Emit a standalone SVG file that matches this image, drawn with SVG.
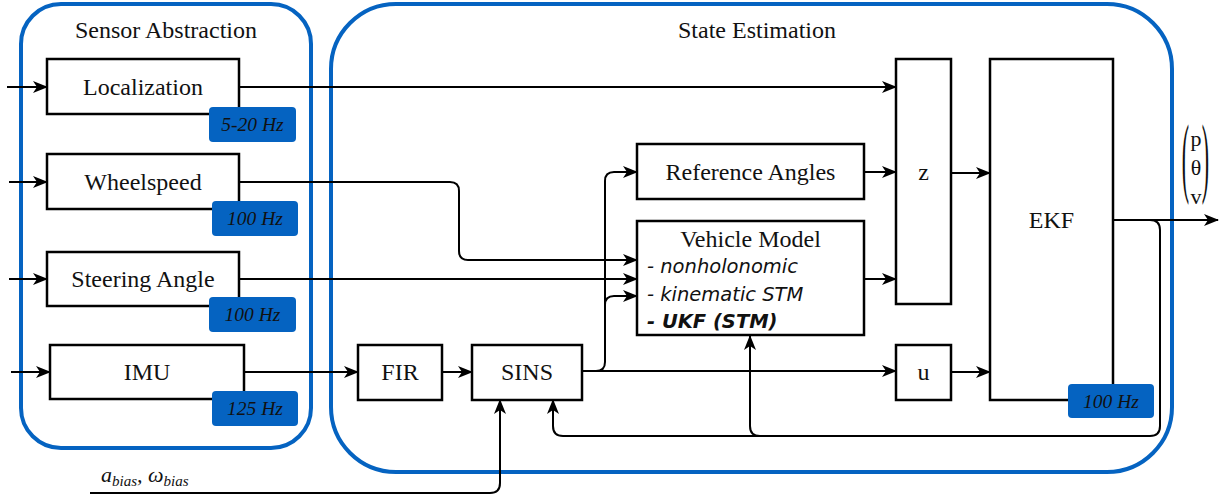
<svg xmlns="http://www.w3.org/2000/svg" width="1225" height="499" viewBox="0 0 1225 499">
  <style>
    .container { fill: none; stroke: #0563C1; stroke-width: 4; }
    .box { fill: #ffffff; stroke: #000000; stroke-width: 2.5; }
    .badge { fill: #0563C1; stroke: none; }
    .label { font-family: "Liberation Serif", "Times New Roman", serif; font-size: 24px; fill: #111111; text-anchor: middle; }
    .title { font-family: "Liberation Serif", "Times New Roman", serif; font-size: 24px; fill: #111111; text-anchor: middle; }
    .rate { font-family: "Liberation Serif", "Times New Roman", serif; font-size: 19.5px; font-style: italic; fill: #111111; text-anchor: middle; }
    .item { font-family: "DejaVu Sans", "Liberation Sans", sans-serif; font-size: 19.5px; font-style: italic; fill: #111111; }
    .vec { font-family: "Liberation Serif", "Times New Roman", serif; font-size: 22px; fill: #111111; text-anchor: middle; }
    .wire { fill: none; stroke: #000000; stroke-width: 2; }
    .arrow { marker-end: url(#head); }
  </style>
  <defs>
    <marker id="head" markerUnits="userSpaceOnUse" markerWidth="15" markerHeight="12" refX="14" refY="6" orient="auto">
      <path d="M0,0 L15,6 L0,12 L4,6 Z" fill="#000000"/>
    </marker>
  </defs>

  <!-- group frames -->
  <g id="sensor-abstraction">
    <rect class="container" x="21" y="4" width="290" height="444" rx="40" ry="40"/>
    <text class="title" x="166" y="38">Sensor Abstraction</text>
  </g>
  <g id="state-estimation">
    <rect class="container" x="331" y="4" width="841" height="468" rx="65" ry="65"/>
    <text class="title" x="757" y="38">State Estimation</text>
  </g>

  <!-- connectors -->
  <g id="connectors">
    <path class="wire arrow" d="M7,87 H47"/>
    <path class="wire arrow" d="M9,182 H47"/>
    <path class="wire arrow" d="M9,279 H47"/>
    <path class="wire arrow" d="M11,372 H50"/>

    <path class="wire arrow" d="M239,87 H896"/>
    <path class="wire arrow" d="M239,182 H450 Q459,182 459,191 V251 Q459,260 468,260 H637"/>
    <path class="wire arrow" d="M239,279 H637"/>
    <path class="wire arrow" d="M244,372 H358"/>
    <path class="wire arrow" d="M442,372 H472"/>
    <path class="wire arrow" d="M582,371 H896"/>
    <path class="wire arrow" d="M582,371 H596 Q605,371 605,362 V181 Q605,172 614,172 H637"/>
    <path class="wire arrow" d="M605,305 Q605,296 614,296 H637"/>

    <path class="wire arrow" d="M864,172 H896"/>
    <path class="wire arrow" d="M864,279 H896"/>
    <path class="wire arrow" d="M951,173 H990"/>
    <path class="wire arrow" d="M951,372 H990"/>

    <path class="wire arrow" d="M1113,220 H1218"/>
    <path class="wire arrow" d="M1113,220 H1150 Q1160,220 1160,230 V426 Q1160,436 1150,436 H760 Q750,436 750,426 V336"/>
    <path class="wire arrow" d="M760,436 H563 Q553,436 553,426 V400"/>
    <path class="wire arrow" d="M90,493 H490 Q500,493 500,483 V400"/>
  </g>

  <!-- sensor nodes -->
  <g id="localization">
    <rect class="box" x="47" y="59" width="192" height="55"/>
    <text class="label" x="143" y="95">Localization</text>
    <rect class="badge" x="209" y="107" width="87" height="35" rx="4"/>
    <text class="rate" x="252.5" y="131">5-20 Hz</text>
  </g>
  <g id="wheelspeed">
    <rect class="box" x="47" y="154" width="192" height="55"/>
    <text class="label" x="143" y="190">Wheelspeed</text>
    <rect class="badge" x="212" y="201" width="86" height="35" rx="4"/>
    <text class="rate" x="255" y="225">100 Hz</text>
  </g>
  <g id="steering-angle">
    <rect class="box" x="47" y="252" width="192" height="54"/>
    <text class="label" x="143" y="287">Steering Angle</text>
    <rect class="badge" x="209" y="297" width="87" height="35" rx="4"/>
    <text class="rate" x="252.5" y="321">100 Hz</text>
  </g>
  <g id="imu">
    <rect class="box" x="50" y="345" width="194" height="54"/>
    <text class="label" x="147" y="380">IMU</text>
    <rect class="badge" x="212" y="391" width="86" height="35" rx="4"/>
    <text class="rate" x="255" y="415">125 Hz</text>
  </g>

  <!-- estimation nodes -->
  <g id="fir">
    <rect class="box" x="358" y="345" width="84" height="55"/>
    <text class="label" x="400" y="380">FIR</text>
  </g>
  <g id="sins">
    <rect class="box" x="472" y="345" width="110" height="55"/>
    <text class="label" x="527" y="380">SINS</text>
  </g>
  <g id="reference-angles">
    <rect class="box" x="637" y="144" width="227" height="55"/>
    <text class="label" x="750.5" y="180">Reference Angles</text>
  </g>
  <g id="vehicle-model">
    <rect class="box" x="637" y="221" width="227" height="114"/>
    <text class="label" x="750.5" y="247">Vehicle Model</text>
    <text class="item" x="647" y="273">- nonholonomic</text>
    <text class="item" x="647" y="301">- kinematic STM</text>
    <text class="item" x="647" y="328" font-weight="bold">- UKF (STM)</text>
  </g>
  <g id="z">
    <rect class="box" x="896" y="59" width="55" height="245"/>
    <text class="label" x="923.5" y="180">z</text>
  </g>
  <g id="u">
    <rect class="box" x="896" y="345" width="55" height="55"/>
    <text class="label" x="923.5" y="380">u</text>
  </g>
  <g id="ekf">
    <rect class="box" x="990" y="59" width="123" height="341"/>
    <text class="label" x="1051.5" y="228">EKF</text>
    <rect class="badge" x="1068" y="384" width="86" height="34" rx="4"/>
    <text class="rate" x="1111" y="408">100 Hz</text>
  </g>

  <!-- output state vector -->
  <g id="state-vector">
    <text class="vec" x="1185.5" y="46.5" transform="scale(1,4)" font-size="20">(</text>
    <text class="vec" x="1205.5" y="46.5" transform="scale(1,4)" font-size="20">)</text>
    <text class="vec" x="1196" y="146">p</text>
    <text class="vec" x="1196" y="175">θ</text>
    <text class="vec" x="1196" y="204">v</text>
  </g>

  <!-- bias input label -->
  <g id="bias-label">
    <text font-family="Liberation Serif, Times New Roman, serif" font-style="italic" font-size="22" fill="#111111" x="101" y="482">a<tspan font-size="15" dy="4">bias</tspan><tspan dy="-4">, ω</tspan><tspan font-size="15" dy="4">bias</tspan></text>
  </g>
</svg>
